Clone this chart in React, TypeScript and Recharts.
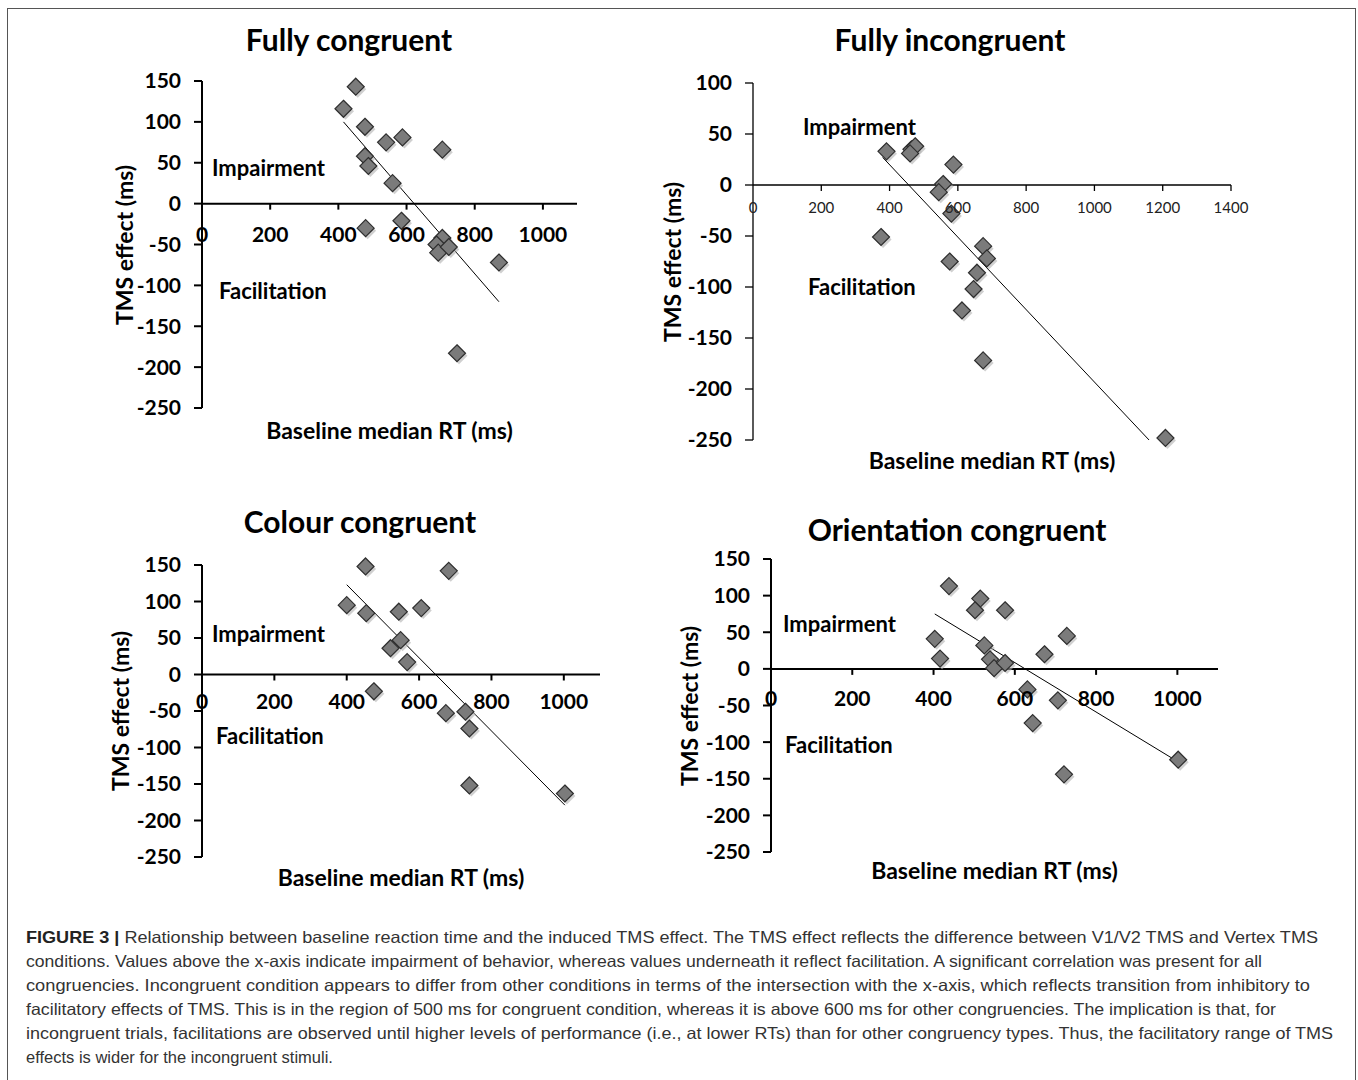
import React from 'react';
import { ScatterChart, Scatter, XAxis, YAxis, ReferenceLine } from 'recharts';

// values (baseline median RT in ms, TMS effect in ms)
const fullyCongruentRT = [415, 451, 478, 478, 488, 540, 588, 705, 559, 480, 585, 705, 688, 693, 724, 871, 748];
const fullyCongruentTMS = [116, 143, 94, 58, 46, 75, 81, 66, 25, -30, -21, -42, -50, -60, -53, -72, -183];
const fullyCongruentTrend = [[415, 100], [871, -120]];

const fullyIncongruentRT = [391, 464, 475, 460, 587, 557, 544, 581, 375, 674, 685, 576, 656, 646, 612, 674, 1208];
const fullyIncongruentTMS = [33, 35, 38, 31, 20, 1, -7, -28, -51, -60, -72, -75, -86, -102, -123, -172, -248];
const fullyIncongruentTrend = [[380, 27], [1160, -250]];

const colourCongruentRT = [452, 682, 400, 454, 544, 606, 549, 521, 567, 475, 674, 728, 739, 739, 1003];
const colourCongruentTMS = [148, 142, 95, 84, 86, 91, 47, 36, 17, -23, -53, -51, -74, -152, -163];
const colourCongruentTrend = [[400, 123], [1003, -179]];

const orientationCongruentRT = [438, 515, 502, 576, 403, 416, 525, 539, 549, 576, 673, 728, 631, 706, 644, 721, 1002];
const orientationCongruentTMS = [113, 96, 80, 80, 41, 14, 32, 13, 1, 8, 20, 45, -28, -43, -74, -144, -124];
const orientationCongruentTrend = [[403, 75], [1002, -127]];

const xTicks1100 = [0, 200, 400, 600, 800, 1000];
const xTicks1400 = [0, 200, 400, 600, 800, 1000, 1200, 1400];
const yTicks150 = [150, 100, 50, 0, -50, -100, -150, -200, -250];
const yTicks100 = [100, 50, 0, -50, -100, -150, -200, -250];

const captionLines = [
  'Relationship between baseline reaction time and the induced TMS effect. The TMS effect reflects the difference between V1/V2 TMS and Vertex TMS',
  'conditions. Values above the x-axis indicate impairment of behavior, whereas values underneath it reflect facilitation. A significant correlation was present for all',
  'congruencies. Incongruent condition appears to differ from other conditions in terms of the intersection with the x-axis, which reflects transition from inhibitory to',
  'facilitatory effects of TMS. This is in the region of 500 ms for congruent condition, whereas it is above 600 ms for other congruencies. The implication is that, for',
  'incongruent trials, facilitations are observed until higher levels of performance (i.e., at lower RTs) than for other congruency types. Thus, the facilitatory range of TMS',
  'effects is wider for the incongruent stimuli.',
];
// right edge of each full caption line; the last line keeps its natural width
const captionEnds = [1318, 1262, 1310, 1276, 1333];

const FONT = 'Lato, "Open Sans", sans-serif';

const zip = (xs: number[], ys: number[]) => xs.map((x, i) => ({ x, y: ys[i] }));

const Diamond = (props: any) => {
  const { cx, cy } = props;
  const r = 8.5;
  const pts = (dx: number, dy: number) =>
    `${cx + dx},${cy - r + dy} ${cx + r + dx},${cy + dy} ${cx + dx},${cy + r + dy} ${cx - r + dx},${cy + dy}`;
  return (
    <g>
      <polygon points={pts(2, 2.5)} fill="#b0b0b0" opacity={0.6} />
      <polygon points={pts(0, 0)} fill="#7b7b7b" stroke="#2e2e2e" strokeWidth={1.2} />
    </g>
  );
};

interface PanelProps {
  title: string;
  titleX: number;
  titleY: number;
  rt: number[];
  tms: number[];
  trend: number[][];
  rect: { left: number; top: number; width: number; height: number };
  xMax: number;
  xTicks: number[];
  yMax: number;
  yTicks: number[];
  thin?: boolean;
  xLabelDy: number;
  yLabelX: number;
  xLabelY: number;
  imp: [number, number];
  fac: [number, number];
}

const Panel: React.FC<PanelProps> = (p) => {
  const mTop = 20;
  const yAxisW = 100;
  const zeroY = mTop + (p.rect.height * p.yMax) / (p.yMax + 250);
  const axisW = p.thin ? 1.3 : 2;
  const xTick = (t: any) => {
    const v = t.payload.value;
    return (
      <g key={`xt-${v}`}>
        {v !== 0 && <line x1={t.x} x2={t.x} y1={zeroY} y2={zeroY + 6} stroke="#000" strokeWidth={axisW} />}
        <text
          x={t.x}
          y={zeroY + p.xLabelDy}
          textAnchor="middle"
          fontFamily={FONT}
          fontSize={p.thin ? 15 : 21}
          fontWeight={p.thin ? 400 : 700}
          fill={p.thin ? '#222' : '#000'}
        >
          {v}
        </text>
      </g>
    );
  };
  const labelStyle: React.CSSProperties = {
    position: 'absolute',
    fontFamily: FONT,
    fontWeight: 700,
    fontSize: 22,
    lineHeight: 1,
    whiteSpace: 'nowrap',
    color: '#000',
  };
  return (
    <>
      <div
        style={{
          ...labelStyle,
          fontSize: 30,
          left: p.titleX,
          top: p.titleY,
          transform: 'translate(-50%, -50%)',
        }}
      >
        {p.title}
      </div>
      <div style={{ position: 'absolute', left: p.rect.left - yAxisW, top: p.rect.top - mTop }}>
        <ScatterChart
          width={p.rect.width + yAxisW + 20}
          height={p.rect.height + mTop + 20}
          margin={{ top: mTop, right: 20, bottom: 19, left: 0 }}
        >
          <XAxis
            type="number"
            dataKey="x"
            domain={[0, p.xMax]}
            ticks={p.xTicks}
            height={1}
            axisLine={false}
            tickLine={false}
            tick={xTick}
            interval={0}
          />
          <YAxis
            type="number"
            dataKey="y"
            domain={[-250, p.yMax]}
            ticks={p.yTicks}
            width={yAxisW}
            interval={0}
            axisLine={{ stroke: '#000', strokeWidth: axisW }}
            tickLine={{ stroke: '#000', strokeWidth: axisW }}
            tickSize={8}
            tickMargin={13}
            tick={{ fill: '#000', fontSize: 21, fontWeight: 700, fontFamily: FONT }}
          />
          <ReferenceLine y={0} stroke="#000" strokeWidth={axisW} />
          <ReferenceLine
            segment={[
              { x: p.trend[0][0], y: p.trend[0][1] },
              { x: p.trend[1][0], y: p.trend[1][1] },
            ]}
            stroke="#000"
            strokeWidth={1}
          />
          <Scatter data={zip(p.rt, p.tms)} shape={Diamond} isAnimationActive={false} />
        </ScatterChart>
      </div>
      <div
        style={{
          ...labelStyle,
          fontSize: 23,
          left: p.yLabelX,
          top: p.rect.top + p.rect.height / 2,
          transform: 'translate(-50%, -50%) rotate(-90deg)',
        }}
      >
        TMS effect (ms)
      </div>
      <div
        style={{
          ...labelStyle,
          fontSize: 23,
          left: p.rect.left + p.rect.width / 2,
          top: p.xLabelY,
          transform: 'translate(-50%, -50%)',
        }}
      >
        Baseline median RT (ms)
      </div>
      <div style={{ ...labelStyle, left: p.imp[0], top: p.imp[1], transform: 'translateY(-50%)' }}>Impairment</div>
      <div style={{ ...labelStyle, left: p.fac[0], top: p.fac[1], transform: 'translateY(-50%)' }}>Facilitation</div>
    </>
  );
};

export default function App() {
  return (
    <div
      style={{
        position: 'absolute',
        left: 0,
        top: 0,
        width: 1358,
        height: 1080,
        background: '#fff',
        overflow: 'hidden',
      }}
    >
      <div
        style={{
          position: 'absolute',
          left: 7,
          top: 8,
          width: 1349,
          height: 1090,
          border: '1.5px solid #555',
          boxSizing: 'border-box',
        }}
      />
      <Panel
        title="Fully congruent"
        titleX={349}
        titleY={39}
        rt={fullyCongruentRT}
        tms={fullyCongruentTMS}
        trend={fullyCongruentTrend}
        rect={{ left: 202, top: 81, width: 375, height: 327 }}
        xMax={1100}
        xTicks={xTicks1100}
        yMax={150}
        yTicks={yTicks150}
        xLabelDy={38}
        yLabelX={124}
        xLabelY={430}
        imp={[212, 168]}
        fac={[219, 291]}
      />
      <Panel
        title="Fully incongruent"
        titleX={950}
        titleY={39}
        rt={fullyIncongruentRT}
        tms={fullyIncongruentTMS}
        trend={fullyIncongruentTrend}
        rect={{ left: 753, top: 83, width: 478, height: 357 }}
        xMax={1400}
        xTicks={xTicks1400}
        yMax={100}
        yTicks={yTicks100}
        thin
        xLabelDy={28}
        yLabelX={672}
        xLabelY={460}
        imp={[803, 127]}
        fac={[808, 287]}
      />
      <Panel
        title="Colour congruent"
        titleX={360}
        titleY={521}
        rt={colourCongruentRT}
        tms={colourCongruentTMS}
        trend={colourCongruentTrend}
        rect={{ left: 202, top: 565, width: 398, height: 292 }}
        xMax={1100}
        xTicks={xTicks1100}
        yMax={150}
        yTicks={yTicks150}
        xLabelDy={34}
        yLabelX={120}
        xLabelY={877}
        imp={[212, 634]}
        fac={[216, 736]}
      />
      <Panel
        title="Orientation congruent"
        titleX={957}
        titleY={529}
        rt={orientationCongruentRT}
        tms={orientationCongruentTMS}
        trend={orientationCongruentTrend}
        rect={{ left: 771, top: 559, width: 447, height: 293 }}
        xMax={1100}
        xTicks={xTicks1100}
        yMax={150}
        yTicks={yTicks150}
        xLabelDy={37}
        yLabelX={689}
        xLabelY={870}
        imp={[783, 624]}
        fac={[785, 745]}
      />
      <svg
        width={1358}
        height={160}
        style={{ position: 'absolute', left: 0, top: 920 }}
        fontFamily='"Liberation Sans", Arial, sans-serif'
        fontSize={16.5}
      >
        {captionLines.map((line, i) => (
          <text
            key={i}
            x={26}
            y={23 + i * 24}
            fill="#333"
            textLength={captionEnds[i] !== undefined ? captionEnds[i] - 26 : undefined}
            lengthAdjust={captionEnds[i] !== undefined ? 'spacingAndGlyphs' : undefined}
          >
            {i === 0 && (
              <tspan fontWeight={700} fill="#222">
                {'FIGURE 3 | '}
              </tspan>
            )}
            {line}
          </text>
        ))}
      </svg>
    </div>
  );
}
